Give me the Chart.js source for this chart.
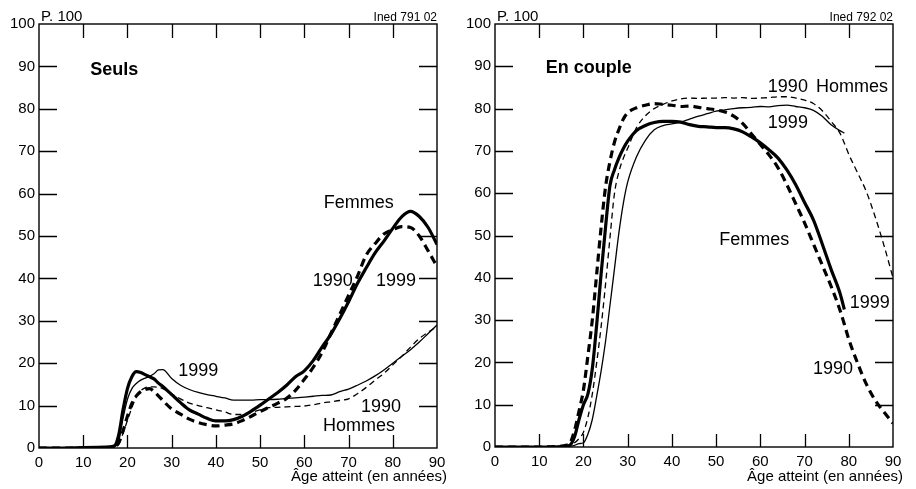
<!DOCTYPE html>
<html>
<head>
<meta charset="utf-8">
<script src="https://cdn.jsdelivr.net/npm/chart.js@4.4.0/dist/chart.umd.min.js"></script>
<style>
  html, body { margin: 0; padding: 0; background: #fff; }
  #wrap { position: relative; width: 916px; height: 489px; overflow: hidden; }
  canvas { position: absolute; top: 0; }
</style>
</head>
<body>
<div id="wrap">
  <canvas id="seuls" width="458" height="489" style="left:0"></canvas>
  <canvas id="couple" width="458" height="489" style="left:456px"></canvas>
</div>
<script>
// ages (années) and shares (p. 100)
const agesSeuls = [0, 5, 10, 15, 17, 18, 19, 20, 21, 22, 23, 24, 25, 26, 27, 28,
  30, 32, 34, 36, 38, 40, 42, 44, 46, 48, 50, 52, 54, 56, 58, 60, 62, 64, 66, 68,
  70, 72, 74, 76, 78, 80, 82, 84, 86, 88, 90];
const seulsFemmes1999 = [0, 0, 0.1, 0.2, 0.5, 3, 9, 14, 16.8, 18, 17.8, 17.3, 16.8, 16.3, 15.3, 14.5,
  12.6, 10.7, 9.0, 8.0, 7.0, 6.4, 6.4, 6.7, 7.5, 8.7, 10.1, 11.6, 13.1, 14.8, 16.8, 18.2, 20.6, 23.8, 26.8, 30.5,
  34.5, 38.8, 42.5, 46, 48.8, 51.8, 54.5, 55.8, 54.6, 52, 48];
const seulsFemmes1990 = [0, 0, 0, 0.1, 0.3, 1.2, 4, 7.5, 10.5, 12.3, 13.3, 13.8, 14, 13.3, 12.3, 11.2,
  9.2, 8.0, 6.8, 6.0, 5.5, 5.2, 5.4, 5.7, 6.5, 7.5, 8.6, 9.6, 10.6, 11.7, 13.6, 16.2, 19, 22.5, 27, 31.5,
  36, 40.5, 45.5, 48.2, 50.5, 51.5, 52.2, 52, 50, 46.5, 42.8];
const seulsHommes1999 = [0, 0, 0, 0.1, 0.3, 1.5, 7, 11.5, 14, 15.2, 16, 16.5, 16.9, 17.5, 18.4, 18.5,
  16.4, 14.8, 13.8, 13.1, 12.6, 12.2, 11.8, 11.3, 11.3, 11.3, 11.4, 11.4, 11.5, 11.7, 11.8, 12, 12.2, 12.4, 12.5, 13.3,
  13.9, 14.8, 15.8, 17, 18.4, 20, 21.6, 23.2, 25, 27, 29];
const seulsHommes1990 = [0, 0, 0, 0.1, 0.2, 0.8, 3.5, 6.5, 9.5, 12, 13.5, 14.2, 14.4, 14.4, 14.3, 14,
  12.8, 11.6, 10.6, 10, 9.5, 9, 8.5, 7.9, 7.9, 8.4, 9, 9.5, 9.6, 9.7, 9.8, 9.9, 10.2, 10.6, 10.9, 11.2,
  11.6, 12.8, 14.3, 16, 17.6, 19.6, 21.6, 23.8, 25.8, 27.3, 28.6];

const agesCouple = [0, 5, 10, 15, 16, 17, 18, 19, 20, 21, 22, 23, 24, 25, 26, 27, 28, 29, 30,
  32, 34, 36, 38, 40, 42, 44, 46, 48, 50, 52, 54, 56, 58, 60, 62, 64, 66, 68, 70, 72, 74, 76, 78,
  79, 80, 82, 84, 86, 88, 90];
const coupleFemmes1999 = [0, 0, 0, 0.1, 0.2, 0.5, 2.5, 6.5, 10, 12.5, 18.5, 29, 41, 52, 61.8, 65.5, 68.3, 70.5, 72.3,
  74.8, 76, 76.7, 77, 77, 76.8, 76.2, 75.8, 75.7, 75.5, 75.5, 75.2, 74.5, 73.3, 71.9, 70.2, 68.3, 65.5, 62, 57.8, 53.7, 48, 42, 36.4,
  32.5, null, null, null, null, null, null];
const coupleFemmes1990 = [0, 0, 0, 0.2, 0.4, 1, 4, 8.5, 13.5, 21.5, 30, 41, 52, 61.5, 67.5, 72, 75, 77.5, 79,
  80.2, 80.8, 81.2, 81, 80.8, 80.5, 80.6, 80.3, 80, 79.7, 79.2, 78.2, 76.5, 74, 71.5, 69, 66, 62, 57.5, 53, 48, 43, 38, 32.4,
  29, 25.5, 19.8, 14.8, 11, 8.2, 5.6];
const coupleHommes1999 = [0, 0, 0, 0, 0.1, 0.2, 0.4, 0.8, 1, 3, 6.5, 12, 18, 25, 33.5, 42, 50.5, 57.5, 62.6,
  68.6, 72.5, 75, 76, 76.4, 76.8, 77.5, 78.2, 78.8, 79.4, 79.7, 80, 80.2, 80.3, 80.5, 80.4, 80.7, 80.8, 80.5, 80.2, 79.6, 78.2, 76.2, 74.8,
  74.2, null, null, null, null, null, null];
const coupleHommes1990 = [0, 0, 0, 0.1, 0.2, 0.4, 1, 2, 3.5, 7, 12.5, 20, 28.5, 38.5, 49.5, 59.8, 65, 68.2, 70.6,
  75.5, 78.3, 80, 81, 81.8, 82.3, 82.5, 82.4, 82.5, 82.5, 82.6, 82.5, 82.6, 82.4, 82.5, 82.6, 82.8, 82.8, 82.5, 82, 81.2, 79.5, 77, 74.2,
  71.8, 69.2, 64.8, 60.3, 54.3, 47.5, 40];

const xTicks = [0, 10, 20, 30, 40, 50, 60, 70, 80, 90];
const yTicks = [0, 10, 20, 30, 40, 50, 60, 70, 80, 90, 100];

const FONT = "'Liberation Sans', Arial, Helvetica, sans-serif";

const toPoints = (ages, vals) =>
  ages.map((a, i) => ({ x: a, y: vals[i] })).filter(p => p.y !== null);

const thick = { borderWidth: 3.2 };
const thin = { borderWidth: 1.3 };
const thickDash = [8, 5];
const thinDash = [6, 4];

function line(ages, vals, style, dash) {
  return {
    data: toPoints(ages, vals),
    borderColor: "#000",
    borderWidth: style.borderWidth,
    borderDash: dash || [],
    pointRadius: 0,
    fill: false,
    cubicInterpolationMode: "monotone",
    borderCapStyle: "butt",
    borderJoinStyle: "round"
  };
}

// frame, inward ticks and the labels written in the panel
const decor = {
  id: "decor",
  afterDatasetsDraw(chart) {
    const { ctx, chartArea: a, scales: { x, y } } = chart;
    const o = chart.options.plugins.decor;
    ctx.save();
    ctx.strokeStyle = "#000";
    ctx.lineWidth = 1.4;
    ctx.strokeRect(a.left, a.top, a.right - a.left, a.bottom - a.top);
    ctx.lineWidth = 1.3;
    ctx.beginPath();
    for (const v of yTicks.slice(1, -1)) {
      const py = Math.round(y.getPixelForValue(v)) + 0.5;
      ctx.moveTo(a.left, py); ctx.lineTo(a.left + 18, py);
      ctx.moveTo(a.right, py); ctx.lineTo(a.right - 18, py);
    }
    for (const v of xTicks.slice(1, -1)) {
      const px = Math.round(x.getPixelForValue(v)) + 0.5;
      ctx.moveTo(px, a.bottom); ctx.lineTo(px, a.bottom - 13);
      ctx.moveTo(px, a.top); ctx.lineTo(px, a.top + 14);
    }
    ctx.stroke();

    ctx.fillStyle = "#000";
    ctx.textBaseline = "alphabetic";
    for (const l of o.labels) {
      ctx.font = (l.bold ? "bold " : "") + l.size + "px " + FONT;
      ctx.textAlign = "left";
      ctx.fillText(l.text, x.getPixelForValue(l.x), y.getPixelForValue(l.y));
    }
    ctx.font = "15px " + FONT;
    ctx.textAlign = "left";
    ctx.fillText("P. 100", a.left + 2, 21);
    ctx.font = "12px " + FONT;
    ctx.textAlign = "right";
    ctx.fillText(o.ref, a.right, 21);
    ctx.font = "15px " + FONT;
    ctx.fillText("Âge atteint (en années)", a.right + 10, 481);
    ctx.restore();
  }
};

function makePanel(id, datasets, labels, ref, bottom) {
  return new Chart(document.getElementById(id), {
    type: "line",
    data: { datasets },
    plugins: [decor],
    options: {
      responsive: false,
      animation: false,
      layout: { padding: { top: 24, right: 21, left: 0, bottom: 0 } },
      plugins: {
        legend: { display: false },
        tooltip: { enabled: false },
        decor: { labels, ref }
      },
      scales: {
        x: {
          type: "linear",
          min: 0, max: 90,
          afterFit: s => { s.height = 489 - bottom; },
          afterBuildTicks: s => { s.ticks = xTicks.map(v => ({ value: v })); },
          grid: { display: false, drawTicks: false },
          border: { display: false },
          ticks: { color: "#000", padding: 6, maxRotation: 0, font: { family: FONT, size: 15 } }
        },
        y: {
          min: 0, max: 100,
          afterFit: s => { s.width = 39; },
          afterBuildTicks: s => { s.ticks = yTicks.map(v => ({ value: v })); },
          grid: { display: false, drawTicks: false },
          border: { display: false },
          ticks: { color: "#000", padding: 4, font: { family: FONT, size: 15 } }
        }
      }
    }
  });
}

makePanel("seuls", [
  line(agesSeuls, seulsFemmes1999, thick),
  line(agesSeuls, seulsFemmes1990, thick, thickDash),
  line(agesSeuls, seulsHommes1999, thin),
  line(agesSeuls, seulsHommes1990, thin, thinDash)
], [
  { text: "Seuls", x: 11.6, y: 88, size: 18, bold: true },
  { text: "Femmes", x: 64.4, y: 56.6, size: 18 },
  { text: "1990", x: 61.9, y: 38.2, size: 18 },
  { text: "1999", x: 76.2, y: 38.2, size: 18 },
  { text: "1999", x: 31.5, y: 17, size: 18 },
  { text: "1990", x: 72.8, y: 8.5, size: 18 },
  { text: "Hommes", x: 64.2, y: 4, size: 18 }
], "Ined 791 02", 448);

makePanel("couple", [
  line(agesCouple, coupleFemmes1999, thick),
  line(agesCouple, coupleFemmes1990, thick, thickDash),
  line(agesCouple, coupleHommes1999, thin),
  line(agesCouple, coupleHommes1990, thin, thinDash)
], [
  { text: "En couple", x: 11.5, y: 88.4, size: 18, bold: true },
  { text: "1990", x: 61.7, y: 83.9, size: 18 },
  { text: "Hommes", x: 72.6, y: 83.9, size: 18 },
  { text: "1999", x: 61.7, y: 75.4, size: 18 },
  { text: "Femmes", x: 50.7, y: 47.8, size: 18 },
  { text: "1999", x: 80.2, y: 32.9, size: 18 },
  { text: "1990", x: 71.9, y: 17.3, size: 18 }
], "Ined 792 02", 447);
</script>
</body>
</html>
